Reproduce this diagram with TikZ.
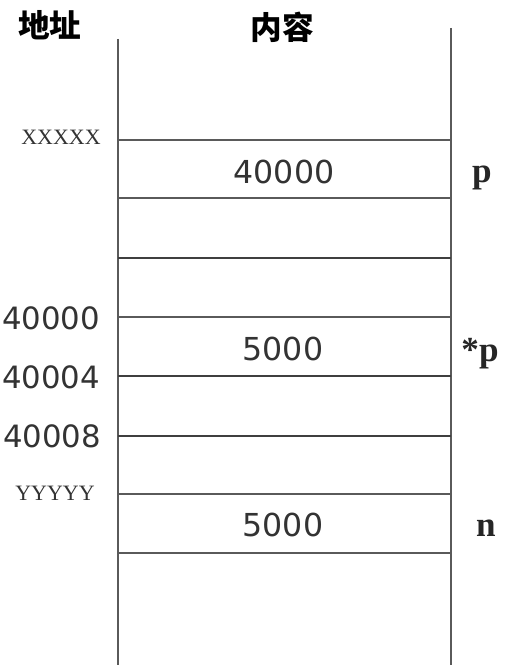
\documentclass[tikz,border=0pt]{standalone}
\usepackage{fontspec}
\setmainfont{Liberation Serif}
\setsansfont{DejaVu Sans}
\newfontfamily\cjk{Noto Sans CJK SC}
\definecolor{lineg}{HTML}{5A5A5A}
\definecolor{txtg}{HTML}{333333}
\begin{document}
\begin{tikzpicture}[x=0.02cm,y=-0.02cm,
  rule/.style={draw=lineg,line width=1.3pt},
  thickrule/.style={draw=lineg!70!black,line width=1.7pt},
  val/.style={font=\sffamily\fontsize{18}{18}\selectfont,text=txtg,inner sep=0pt},
  addr/.style={font=\sffamily\fontsize{17.5}{18}\selectfont,text=txtg,inner sep=0pt},
  sym/.style={font=\rmfamily\fontsize{12.5}{12.5}\selectfont,text=txtg,inner sep=0pt},
  varname/.style={font=\rmfamily\bfseries\fontsize{20}{20}\selectfont,text=black!85,inner sep=0pt},
  head/.style={font=\cjk\bfseries\fontsize{18}{18}\selectfont,inner sep=0pt}]
\useasboundingbox[fill=white] (0,0) rectangle (505,669);
% headers
\node[head] (hA) at (50,25) {地址};
\node[head] (hC) at (282,27) {内容};
% vertical borders
\draw[rule] (118,39) -- (118,665);
\draw[rule] (451,28) -- (451,665);
% horizontal lines
\draw[rule] (118,140) -- (451,140);
\draw[rule] (118,198) -- (451,198);
\draw[thickrule] (118,258) -- (451,258);
\draw[rule] (118,317) -- (451,317);
\draw[thickrule] (118,376) -- (451,376);
\draw[thickrule] (118,436) -- (451,436);
\draw[rule] (118,494) -- (451,494);
\draw[rule] (118,553) -- (451,553);
% contents
\node[val] (c1) at (284,172) {40000};
\node[val] (c2) at (283,349) {5000};
\node[val] (c3) at (283,525) {5000};
% variable names
\node[varname] (vp) at (482,178) {p};
\node[varname] (vsp) at (480,354) {*p};
\node[varname] (vn) at (486,528) {n};
% addresses
\node[sym] (aX) at (61,137) {XXXXX};
\node[addr] (a1) at (51,318) {40000};
\node[addr] (a2) at (51,377) {40004};
\node[addr] (a3) at (52,436) {40008};
\node[sym] (aY) at (55,493) {YYYYY};
\end{tikzpicture}
\end{document}
